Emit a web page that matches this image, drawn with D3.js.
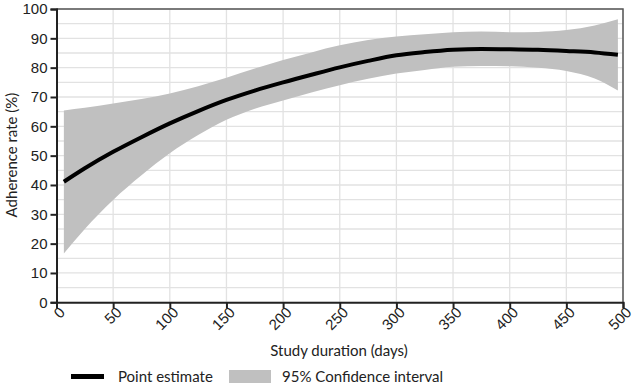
<!DOCTYPE html>
<html>
<head>
<meta charset="utf-8">
<script src="https://cdn.jsdelivr.net/npm/d3@7"></script>
<style>
  body { margin: 0; background: #fff; }
  svg { display: block; font-family: Lato, "Open Sans", sans-serif; }
  .tick text { fill: #222; font-size: 15px; }
</style>
</head>
<body>
<div id="chartDiv"></div>
<script>
// data
var days     = [6.5, 25, 50, 75, 100, 125, 150, 175, 200, 225, 250, 275, 300, 325, 350, 375, 400, 425, 450, 475, 495.5];
var estimate = [41.1, 45.7, 51.3, 56.3, 61.0, 65.2, 69.0, 72.2, 75.0, 77.6, 80.1, 82.3, 84.2, 85.3, 86.1, 86.4, 86.3, 86.1, 85.7, 85.2, 84.4];
var upperCI  = [65.4, 66.3, 67.8, 69.3, 71.2, 73.7, 76.6, 79.7, 82.6, 85.2, 87.6, 89.4, 90.6, 91.4, 92.1, 92.3, 92.1, 92.2, 92.8, 94.4, 96.5];
var lowerCI  = [16.6, 25.0, 34.9, 43.3, 50.8, 57.0, 62.2, 66.0, 68.8, 71.5, 74.0, 76.2, 78.0, 79.2, 80.3, 80.6, 80.5, 80.0, 78.9, 76.3, 72.2];

var xTicks = d3.range(0, 501, 50);
var yTicks = d3.range(0, 101, 10);
var yGrid  = d3.range(0, 101, 5);

var legendItems = ["Point estimate", "95% Confidence interval"];

var W = 634, H = 387;
var m = { t: 9, r: 11, b: 85, l: 56.5 };
var pw = 623 - m.l, ph = 302.3 - m.t;

var rows = days.map((d, i) => ({ day: d, est: estimate[i], hi: upperCI[i], lo: lowerCI[i] }));

var svg = d3.select("#chartDiv").append("svg").attr("width", W).attr("height", H);
var g = svg.append("g").attr("transform", `translate(${m.l},${m.t})`);

var x = d3.scaleLinear().domain([0, 500]).range([0, pw]);
var y = d3.scaleLinear().domain([0, 100]).range([ph, 0]);

// grid
g.append("g").selectAll("line").data(yGrid).join("line")
  .attr("x1", 0).attr("x2", pw)
  .attr("y1", d => y(d)).attr("y2", d => y(d))
  .attr("stroke", "#e2e2e2").attr("stroke-width", 1.3);
g.append("g").selectAll("line").data(xTicks.slice(1)).join("line")
  .attr("x1", d => x(d)).attr("x2", d => x(d))
  .attr("y1", 0).attr("y2", ph)
  .attr("stroke", "#e2e2e2").attr("stroke-width", 1.3);

// ribbon + line
var area = d3.area().curve(d3.curveMonotoneX)
  .x(d => x(d.day)).y0(d => y(d.lo)).y1(d => y(d.hi));
g.append("path").datum(rows).attr("d", area).attr("fill", "#c0c0c0");

var line = d3.line().curve(d3.curveMonotoneX)
  .x(d => x(d.day)).y(d => y(d.est));
g.append("path").datum(rows).attr("d", line)
  .attr("fill", "none").attr("stroke", "#000").attr("stroke-width", 4);

// frame top/right
g.append("path").attr("d", `M0,0H${pw}V${ph}`)
  .attr("fill", "none").attr("stroke", "#555").attr("stroke-width", 1.5);

// axes
var yAxis = g.append("g").call(d3.axisLeft(y).tickValues(yTicks).tickSize(6).tickPadding(3));
var xAxis = g.append("g").attr("transform", `translate(0,${ph})`)
  .call(d3.axisBottom(x).tickValues(xTicks).tickSize(6).tickPadding(3));
[yAxis, xAxis].forEach(a => {
  a.select(".domain").attr("stroke", "#222").attr("stroke-width", 2);
  a.selectAll(".tick line").attr("stroke", "#222").attr("stroke-width", 2);
});
yAxis.selectAll(".tick line").attr("x1", 1);
xAxis.selectAll(".tick text")
  .attr("text-anchor", "end")
  .attr("dy", null).attr("y", 0)
  .attr("transform", "translate(9,11) rotate(-45)");

// titles
svg.append("text").attr("x", 339).attr("y", 356)
  .attr("text-anchor", "middle").attr("font-size", 15).attr("fill", "#222")
  .text("Study duration (days)");
svg.append("text").attr("transform", "translate(17,155) rotate(-90)")
  .attr("text-anchor", "middle").attr("font-size", 15).attr("fill", "#222")
  .text("Adherence rate (%)");

// legend
var lg = svg.append("g");
lg.append("line").attr("x1", 71).attr("x2", 104).attr("y1", 376.5).attr("y2", 376.5)
  .attr("stroke", "#000").attr("stroke-width", 5);
lg.append("text").attr("x", 118).attr("y", 382).attr("font-size", 15).attr("fill", "#222").text(legendItems[0]);
lg.append("rect").attr("x", 229).attr("y", 370).attr("width", 42).attr("height", 13).attr("fill", "#c0c0c0");
lg.append("text").attr("x", 282).attr("y", 382).attr("font-size", 15).attr("fill", "#222").text(legendItems[1]);
</script>
</body>
</html>
